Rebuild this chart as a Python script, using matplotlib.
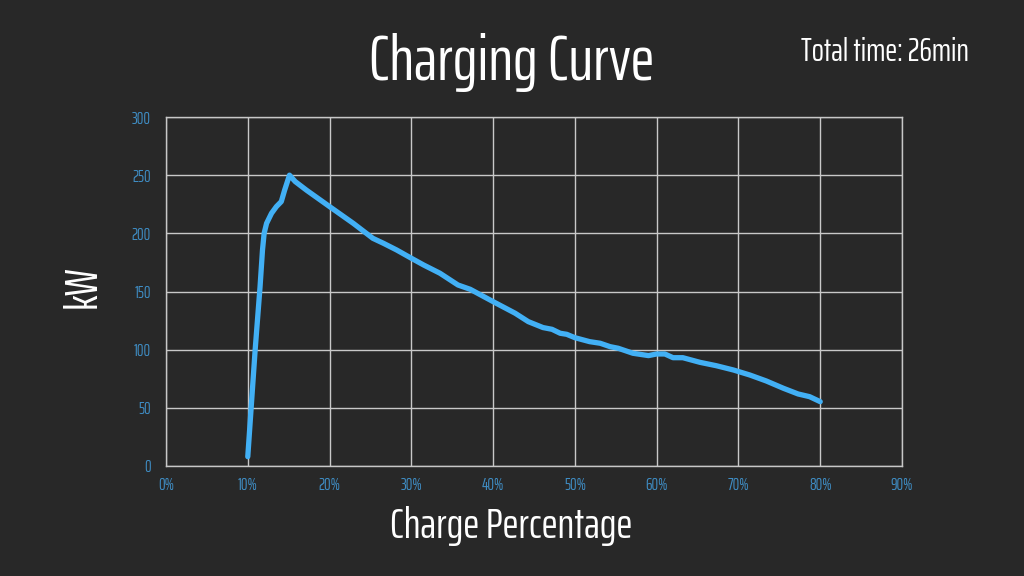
import matplotlib
matplotlib.use("Agg")
import matplotlib.pyplot as plt
from matplotlib import font_manager

charge_pct = [10.0, 10.9, 11.5, 11.8, 12.0, 12.3, 12.9, 13.5, 14.1, 14.5, 15.1, 15.8,
              17.2, 20.0, 22.9, 25.3, 26.6, 28.2, 30.0, 31.5, 33.5, 35.7, 37.2, 40.0,
              42.7, 44.3, 46.1, 47.2, 48.2, 49.0, 50.0, 51.8, 53.1, 54.3, 55.3, 57.1,
              59.0, 60.0, 61.0, 62.0, 63.2, 65.3, 67.3, 69.4, 71.4, 73.4, 75.5, 77.3,
              78.7, 80.0]
power_kw = [8.0, 99.7, 154.0, 185.7, 200.0, 208.6, 217.2, 223.0, 227.3, 237.0, 250.0, 244.5,
            237.0, 223.0, 208.6, 195.7, 191.4, 185.7, 178.6, 172.8, 165.7, 155.6, 151.9, 141.3,
            131.3, 124.1, 119.0, 117.5, 114.1, 113.2, 110.3, 106.9, 105.5, 102.6, 101.2, 96.9,
            94.9, 96.3, 96.3, 93.1, 93.1, 89.1, 86.2, 82.5, 78.2, 73.1, 66.8, 61.9,
            59.6, 55.3]
x_ticks = [0, 10, 20, 30, 40, 50, 60, 70, 80, 90]
x_tick_labels = [f"{v}%" for v in x_ticks]
y_ticks = [0, 50, 100, 150, 200, 250, 300]

available = {f.name for f in font_manager.fontManager.ttflist}
prefs = ["Saira ExtraCondensed", "Saira Extra Condensed", "Big Shoulders Text", "Antonio", "DejaVu Sans"]
main_font = next(n for n in prefs if n in available or n == "DejaVu Sans")
plt.rcParams['font.family'] = [main_font, 'DejaVu Sans']

BG = "#282828"
fig = plt.figure(figsize=(10.24, 5.76), dpi=100, facecolor=BG)
ax = fig.add_axes([166/1024, 1-466/576, (902-166)/1024, (466-117)/576])
ax.set_facecolor(BG)

ax.plot(charge_pct, power_kw, color="#42b0f5", lw=3.8, solid_capstyle="round",
        solid_joinstyle="round", zorder=3)

ax.set_xlim(0, 90)
ax.set_ylim(0, 300)
ax.set_xticks(x_ticks)
ax.set_xticklabels(x_tick_labels)
ax.set_yticks(y_ticks)
ax.grid(True, color="#c8c8c8", lw=1.0)
for s in ax.spines.values():
    s.set_color("#c8c8c8")
    s.set_linewidth(1.0)
ax.tick_params(length=0, colors="#3f8dc4", labelsize=12)
ax.tick_params(axis='y', pad=11)
ax.tick_params(axis='x', pad=8)

fig.text(0.5, 1-63/576, "Charging Curve", color="white", fontsize=46,
         ha="center", va="center")
fig.text(885/1024, 1-52/576, "Total time: 26min", color="white", fontsize=23,
         ha="center", va="center")
fig.text(83/1024, 1-287/576, "kW", color="white", fontsize=33, rotation=90,
         ha="center", va="center")
fig.text(511/1024, 1-526/576, "Charge Percentage", color="white", fontsize=31,
         ha="center", va="center")

fig.savefig("out.png", dpi=100, facecolor=BG)
